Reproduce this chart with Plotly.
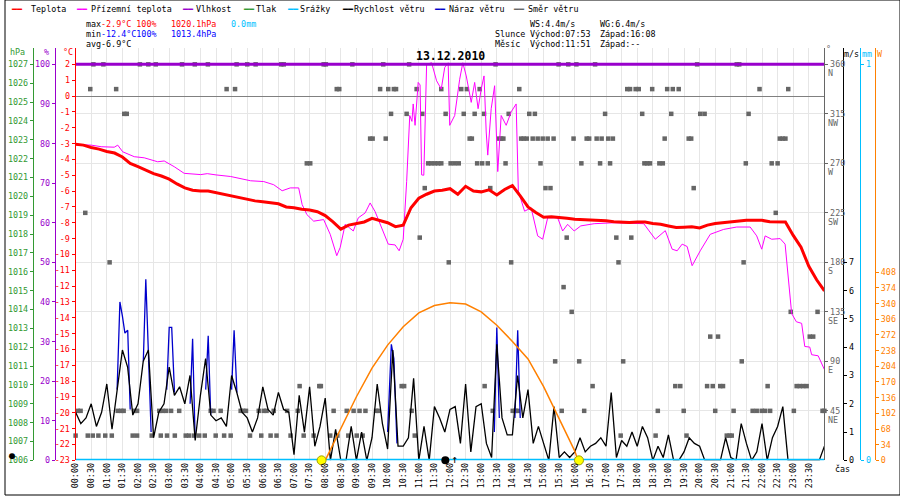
import plotly.graph_objects as go

# --- weather station day chart, 13.12.2010 ---
FONT = "DejaVu Sans Mono"
FS = 8.4                           # small text size (about 5 px per character)
W_PX, H_PX = 900, 500
PLOT_L, PLOT_R = 71, 824          # plot area edges (px)
PLOT_T, PLOT_B = 48, 465
SCALE_TOP = 65                     # pixel row where the full scale value sits

C_TEMP = '#FF0000'
C_GROUND = '#FF00FF'
C_HUM = '#9900CC'
C_PRESS = '#339933'
C_RAIN = '#00BFFF'
C_WIND = '#000000'
C_GUST = '#0000CC'
C_DIR = '#666666'
C_SUN = '#FF8000'
C_GRID = '#E6E6E6'

# temperature (°C), 15 minute readings
temp_times = [i / 4 for i in range(97)]
temp = [-3.05, -3.1, -3.25, -3.35, -3.5, -3.6, -3.85, -4.25, -4.45, -4.7, -4.9, -5.05,
        -5.25, -5.55, -5.8, -5.95, -6.0, -6.0, -6.1, -6.23, -6.3, -6.42, -6.5, -6.62,
        -6.68, -6.72, -6.8, -7.0, -7.05, -7.15, -7.2, -7.3, -7.55, -7.95, -8.4, -8.15,
        -8.05, -7.95, -7.72, -7.85, -8.0, -8.25, -8.15, -7.05, -6.45, -6.2, -6.0, -5.95,
        -5.85, -6.2, -5.7, -6.0, -6.05, -5.92, -6.25, -5.9, -5.65, -6.3, -7.0, -7.35,
        -7.65, -7.62, -7.65, -7.72, -7.78, -7.8, -7.8, -7.82, -7.88, -7.93, -7.95, -7.98,
        -7.95, -7.95, -8.05, -8.1, -8.2, -8.3, -8.28, -8.25, -8.33, -8.15, -8.05, -8.0,
        -7.93, -7.9, -7.85, -7.85, -7.85, -7.93, -7.93, -7.95, -8.8, -9.55, -10.75, -11.6,
        -12.3]

# ground temperature (°C)
ground_times = [0.0, 0.5, 0.82, 1.24, 1.35, 1.51, 1.88, 2.2, 2.63, 2.84, 3.16, 3.48, 4.01,
                4.22, 4.5, 4.97, 5.61, 6.03, 6.35, 6.62, 6.88, 7.15, 7.26, 7.41, 7.63, 7.95,
                8.16, 8.37, 8.48, 8.64, 8.9, 9.06, 9.28, 9.44, 9.6, 9.81, 10.02, 10.24, 10.37,
                10.5, 10.61, 10.71, 10.78, 10.82, 10.88, 10.98, 11.04, 11.09, 11.16, 11.25,
                11.41, 11.57, 11.72, 11.83, 11.94, 11.99, 12.15, 12.31, 12.41, 12.52, 12.68,
                12.79, 12.9, 13.0, 13.09, 13.16, 13.21, 13.32, 13.43, 13.53, 13.64, 13.8,
                13.96, 14.12, 14.19, 14.39, 14.6, 14.81, 14.97, 15.13, 15.45, 15.61, 15.77,
                15.98, 16.19, 16.62, 17.26, 18.21, 18.58, 18.9, 19.12, 19.28, 19.44, 19.6,
                19.76, 20.02, 20.34, 20.77, 21.19, 21.62, 21.83, 21.99, 22.1, 22.31, 22.58,
                22.74, 22.84, 22.95, 23.1, 23.27, 23.37, 23.53, 23.59, 23.8, 24.0]
ground = [-3.06, -3.1, -3.2, -3.23, -3.1, -3.52, -3.83, -3.9, -4.15, -4.1, -4.46, -4.88, -4.96,
          -4.9, -4.98, -5.08, -5.35, -5.4, -5.6, -5.98, -5.8, -5.8, -6.85, -7.48, -7.9, -7.8,
          -8.73, -10.08, -9.56, -8.1, -8.52, -7.69, -7.38, -6.75, -7.3, -8.31, -9.35, -9.4, -9.77,
          -9.04, -5.4, -1.23, -1.6, -0.5, -1.85, 0.86, 0.7, -4.98, -5.0, 2.0,
          2.1, 0.96, 0.44, 1.8, 2.1, -1.85, -1.23, 1.06, 2.1, 1.27, -0.4,
          0.86, -0.8, 0.44, 1.27, -2.27, -3.73, -0.8, 0.65, -4.77, -1.23, -1.85,
          -1.0, -0.5, -6.0, -7.27, -7.06, -8.83, -9.04, -7.69, -7.69, -8.52, -8.1,
          -8.52, -8.2, -8.06, -8.0, -8.06, -9.04, -8.5, -9.67, -9.77, -9.35, -9.5,
          -10.71, -9.77, -8.73, -8.42, -8.27, -8.27, -8.83, -9.67, -8.83, -9.04, -9.0,
          -9.35, -11.65, -13.73, -14.25, -14.35, -15.81, -15.85, -16.33, -16.4, -17.27]

# humidity (%) and precipitation (mm)
hum_times = [0, 24]
humidity = [100, 100]
rain_times = [0, 24]
rain = [0.0, 0.0]

# wind speed (m/s), 10 minute readings
wind_times = [i / 6 for i in range(145)]
wind_speed = [1.7, 1.3, 1.5, 2.0, 1.2, 1.7, 2.7, 1.1, 2.5, 3.9, 3.3, 1.6,
              2.0, 3.5, 3.9, 0.8, 1.7, 2.0, 3.3, 2.3, 2.6, 2.0, 3.0, 0.7,
              2.3, 3.6, 1.6, 1.4, 1.5, 1.2, 3.0, 2.4, 1.7, 1.5, 1.0, 1.5,
              2.6, 1.8, 1.6, 2.4, 1.8, 1.7, 0.2, 2.3, 1.0, 2.6, 0.5, 1.2,
              2.2, 0.0, 1.1, 0.0, 0.0, 1.2, 0.0, 1.0, 0.0, 0.8, 2.7, 1.3,
              0.4, 3.9, 0.5, 0.5, 0.8, 2.9, 0.0, 1.2, 0.0, 1.9, 1.5, 1.0,
              1.8, 1.9, 0.6, 2.7, 0.3, 1.9, 2.0, 0.6, 0.1, 4.1, 1.5, 0.9,
              0.9, 3.0, 1.5, 2.5, 0.6, 1.2, 0.6, 0.0, 1.9, 0.1, 0.3, 0.1,
              0.3, 0.8, 0.3, 0.5, 0.6, 0.8, 0.5, 2.4, 0.1, 0.7, 0.5, 1.0,
              0.5, 1.2, 0.8, 0.0, 0.5, 0.1, 0.9, 0.0, 0.0, 0.3, 0.8, 0.6,
              0.5, 0.0, 0.0, 0.0, 0.0, 0.8, 0.1, 0.0, 1.3, 0.6, 0.0, 0.3,
              1.3, 0.0, 0.8, 1.2, 1.9, 0.0, 0.0, 0.0, 0.0, 0.0, 0.0, 0.0,
              0.5]

# gusts (m/s), only the episodes that rise above the mean speed
gust_times = [1.33, 1.42, 1.5, 1.58, 1.67, 1.75, None,
              2.17, 2.25, 2.33, 2.42, None,
              2.92, 3.0, 3.08, 3.17, None,
              3.67, 3.75, 3.83, None,
              4.17, 4.25, 4.33, None,
              5.0, 5.08, 5.17, None,
              10.0, 10.12, 10.2, 10.3, None,
              13.42, 13.5, 13.58, None,
              14.08, 14.17, 14.25]
gust = [2.5, 5.6, 5.1, 4.5, 4.6, 1.8, None,
        3.5, 6.4, 3.9, 1.0, None,
        2.5, 4.7, 4.7, 2.4, None,
        2.0, 4.3, 0.8, None,
        2.5, 4.4, 1.6, None,
        2.5, 4.6, 2.4, None,
        1.0, 4.1, 3.6, 0.6, None,
        1.0, 4.7, 1.5, None,
        1.5, 4.6, 1.5]

# wind direction readings: times (h) at which each compass point was recorded
dir_N = [0.57, 0.89, 2.06, 2.33, 2.57, 3.41, 3.82, 4.24, 5.16, 5.5, 5.77, 6.59, 6.67, 7.95,
         8.02, 8.87, 9.86, 10.69, 13.46, 15.48, 15.79, 16.05, 16.65, 19.92, 21.19, 21.27]
dir_NNW = [0.47, 1.3, 4.84, 5.11, 8.37, 8.45, 9.76, 10.02, 10.2, 10.27, 10.93, 11.72, 12.36,
           12.54, 12.95, 14.22, 17.68, 17.77, 17.95, 18.05, 18.48, 18.96, 19.14, 19.33,
           21.92, 22.84]
dir_NW = [1.56, 1.64, 10.11, 10.61, 11.11, 11.86, 12.44, 12.79, 13.09, 13.88, 14.54, 14.72,
          16.97, 18.16, 19.09, 20.02, 20.16, 21.57]
dir_WNW = [9.44, 9.52, 9.94, 12.63, 12.7, 13.57, 13.64, 13.71, 14.28, 14.36, 14.46, 14.65,
           14.81, 14.97, 15.13, 15.32, 15.96, 16.38, 16.46, 16.7, 16.86, 17.07, 17.22, 18.88,
           19.65, 19.73, 22.57, 22.66, 22.75]
dir_W = [7.41, 7.52, 11.3, 11.4, 11.51, 11.62, 11.72, 12.02, 12.15, 12.28, 12.87, 13.03,
         13.21, 13.78, 14.9, 16.21, 16.81, 17.13, 18.23, 18.32, 18.41, 18.71, 18.82, 21.48,
         22.31, 22.5]
dir_WSW = [11.19, 13.29, 15.06, 15.22, 19.81]
dir_SW = [0.31, 22.44]
dir_SSW = [11.03, 15.74, 17.33, 17.81]
dir_S = [1.09, 11.96, 13.96, 17.4, 21.41]
dir_SSE = [15.64]
dir_SE = [15.9, 22.92, 23.78]
dir_ESE = [20.34, 20.59, 23.53, 23.64]
dir_E = [15.37, 16.14, 17.55, 21.35]
dir_ENE = [7.18, 7.81, 7.86, 10.45, 10.53, 13.11, 16.57, 19.22, 19.38, 20.24, 20.42, 20.66,
           20.75, 22.18, 23.11, 23.21, 23.32, 23.43]
dir_NE = [0.07, 0.16, 1.35, 1.46, 1.54, 1.88, 1.97, 2.68, 2.79, 2.9, 3.06, 3.32, 4.33, 4.42,
          4.65, 5.29, 5.37, 5.46, 5.87, 6.03, 6.12, 6.35, 6.78, 7.12, 8.27, 8.69, 8.91, 9.1,
          9.29, 9.63, 9.71, 10.77, 13.37, 14.01, 14.1, 14.17, 15.58, 16.3, 18.66, 19.49, 20.5,
          21.09, 21.7, 21.83, 21.99, 22.1, 22.26, 23.02, 23.94, 24.0]
dir_NNE = [0.0, 0.39, 0.55, 0.73, 0.95, 1.16, 1.83, 1.97, 2.44, 2.73, 2.93, 3.18, 3.53, 3.64,
           3.8, 3.96, 4.14, 4.49, 4.76, 4.97, 5.59, 5.95, 6.25, 6.44, 6.89, 7.31, 7.63, 8.16,
           8.39, 8.74, 9.01, 9.2, 10.87, 17.47, 18.59, 19.58, 20.87, 20.96, 21.03]
compass_deg = [360, 337.5, 315, 292.5, 270, 247.5, 225, 202.5, 180, 157.5, 135, 112.5,
               90, 67.5, 45, 22.5]

# solar radiation (W/m2)
sun_times = [8.0, 8.5, 9.0, 9.5, 10.0, 10.5, 11.0, 11.5, 12.0, 12.5, 13.0, 13.5, 14.0,
             14.5, 15.0, 15.5, 16.0, 16.1]
sun_w = [0, 70, 138, 200, 250, 290, 320, 336, 342, 339, 322, 293, 258, 220, 160, 90, 20, 0]

sun_events = [7 + 53 / 60, 16 + 8 / 60]     # sunrise, sunset
moon_rise = 11 + 51 / 60

# axis scales: (value at bottom, value at the 65 px row, tick values)
ax_temp = (-23, 2, list(range(2, -24, -1)))
ax_press = (1006, 1027, list(range(1006, 1028)))
ax_hum = (0, 100, list(range(0, 101, 10)))
ax_dir = (0, 360, [45, 90, 135, 180, 225, 270, 315, 360])
ax_wind = (0, 14, list(range(0, 8)))
ax_rain = (0, 1, [0, 1])
ax_sun = (0, 859, list(range(0, 409, 34)))
dir_letters = ['NE', 'E', 'SE', 'S', 'SW', 'W', 'NW', 'N']

hour_ticks = [i / 2 for i in range(48)]
hour_labels = [f"{int(h):02d}:{'30' if h % 1 else '00'}" for h in hour_ticks]


def px_x(px):
    return px / W_PX


def px_y(py):
    return 1 - py / H_PX


def full_range(spec):
    lo, hi, _ = spec
    return [lo, lo + (hi - lo) * (PLOT_B - PLOT_T) / (PLOT_B - SCALE_TOP)]


def yaxis(spec, color, side, position=None, overlay=True):
    d = dict(
        range=full_range(spec), tickvals=spec[2], ticktext=[str(v) for v in spec[2]],
        tickfont=dict(family=FONT, size=FS, color=color), side=side,
        showline=True, linecolor=color, linewidth=1, ticks='outside', ticklen=3,
        tickcolor=color, showgrid=False, zeroline=False, fixedrange=True,
        domain=[px_y(PLOT_B), px_y(PLOT_T)],
    )
    if overlay:
        d['overlaying'] = 'y'
    if position is None:
        d['anchor'] = 'x'
    else:
        d['anchor'] = 'free'
        d['position'] = position
    return d


fig = go.Figure()

# wind direction squares (main axis, drawn underneath)
dir_rows = [dir_N, dir_NNW, dir_NW, dir_WNW, dir_W, dir_WSW, dir_SW, dir_SSW, dir_S,
            dir_SSE, dir_SE, dir_ESE, dir_E, dir_ENE, dir_NE, dir_NNE]
dx, dy = [], []
for deg, times in zip(compass_deg, dir_rows):
    dx.extend(times)
    dy.extend([deg] * len(times))
fig.add_trace(go.Scatter(x=dx, y=dy, mode='markers', yaxis='y',
                         marker=dict(symbol='square', size=4.5, color=C_DIR, line=dict(width=0)),
                         name='Směr větru', hoverinfo='skip', cliponaxis=False))

# temperatures
fig.add_trace(go.Scatter(x=ground_times, y=ground, mode='lines', yaxis='y2',
                         line=dict(color=C_GROUND, width=1), name='Přízemní teplota'))
fig.add_trace(go.Scatter(x=temp_times, y=temp, mode='lines', yaxis='y2',
                         line=dict(color=C_TEMP, width=3), name='Teplota'))

# pressure (no readings drawn)
fig.add_trace(go.Scatter(x=[], y=[], mode='lines', yaxis='y3',
                         line=dict(color=C_PRESS, width=2), name='Tlak'))

# humidity
fig.add_trace(go.Scatter(x=hum_times, y=humidity, mode='lines', yaxis='y4',
                         line=dict(color=C_HUM, width=3), name='Vlhkost', cliponaxis=False))

# wind, gusts
fig.add_trace(go.Scatter(x=gust_times, y=gust, mode='lines', yaxis='y5',
                         line=dict(color=C_GUST, width=1.3), name='Náraz větru',
                         connectgaps=False))
fig.add_trace(go.Scatter(x=wind_times, y=wind_speed, mode='lines', yaxis='y5',
                         line=dict(color=C_WIND, width=1.3), name='Rychlost větru'))

# solar radiation
fig.add_trace(go.Scatter(x=sun_times, y=sun_w, mode='lines', yaxis='y7',
                         line=dict(color=C_SUN, width=1.5), name='Slunce'))

# precipitation
fig.add_trace(go.Scatter(x=rain_times, y=rain, mode='lines', yaxis='y6',
                         line=dict(color=C_RAIN, width=3), name='Srážky', cliponaxis=False))

# sunrise / sunset, moonrise
fig.add_trace(go.Scatter(x=sun_events, y=[0, 0], mode='markers', yaxis='y7',
                         marker=dict(size=9, color='#FFFF00', line=dict(color='#A0A000', width=1)),
                         cliponaxis=False, hoverinfo='skip'))
fig.add_trace(go.Scatter(x=[moon_rise], y=[0], mode='markers+text', yaxis='y7',
                         marker=dict(size=8, color='#000000'), text=['↑'],
                         textposition='middle right',
                         textfont=dict(family=FONT, size=11, color='#000000'),
                         cliponaxis=False, hoverinfo='skip'))

# height is left to the page (100vh) so the chart fills the whole window
fig.update_layout(
    width=W_PX, margin=dict(l=0, r=0, t=0, b=0), autosize=True,
    paper_bgcolor='white', plot_bgcolor='white', showlegend=False,
    font=dict(family=FONT, size=FS, color='black'),
    xaxis=dict(domain=[px_x(PLOT_L), px_x(PLOT_R)], range=[0, 24], anchor='y',
               tickvals=hour_ticks, ticktext=hour_labels, tickangle=-90,
               tickfont=dict(family=FONT, size=FS, color='black'),
               showgrid=True, gridcolor=C_GRID, gridwidth=1, zeroline=False,
               showline=False, ticks='', fixedrange=True),
    yaxis=dict(yaxis(ax_dir, C_DIR, 'right', overlay=False), showgrid=True,
               gridcolor=C_GRID, gridwidth=1),
    yaxis2=dict(yaxis(ax_temp, C_TEMP, 'left'), zeroline=True, zerolinecolor='#808080',
                zerolinewidth=1),
    yaxis3=yaxis(ax_press, C_PRESS, 'left', px_x(28)),
    yaxis4=yaxis(ax_hum, C_HUM, 'left', px_x(50)),
    yaxis5=yaxis(ax_wind, C_WIND, 'right', px_x(843)),
    yaxis6=yaxis(ax_rain, C_RAIN, 'right', px_x(860)),
    yaxis7=yaxis(ax_sun, C_SUN, 'right', px_x(875)),
)

annotations = []


def label(x, y, text, color='black', size=FS, bold=False, anchor='left'):
    annotations.append(dict(
        x=px_x(x), y=px_y(y), xref='paper', yref='paper', text=f"<b>{text}</b>" if bold else text,
        showarrow=False, xanchor=anchor, yanchor='middle', borderpad=0,
        font=dict(family=FONT, size=size, color=color)))


# legend row: (name, colour, dash start px, text start px)
legend_items = [('Teplota', C_TEMP, 5, 25), ('Přízemní teplota', C_GROUND, 70, 85),
                ('Vlhkost', C_HUM, 177, 191), ('Tlak', C_PRESS, 238, 251),
                ('Srážky', C_RAIN, 283, 296), ('Rychlost větru', C_WIND, 338, 350),
                ('Náraz větru', C_GUST, 430, 445), ('Směr větru', C_DIR, 510, 525)]
for name, color, x_dash, x_text in legend_items:
    label(x_dash, 9, '━━', color)
    label(x_text, 9, name)

# statistics block
label(80, 24, 'max')
label(96, 24, '-2.9°C 100%', C_TEMP)
label(166, 24, '1020.1hPa', C_TEMP)
label(226, 24, '0.0mm', C_RAIN)
label(80, 34, 'min')
label(96, 34, '-12.4°C100%', '#0000FF')
label(166, 34, '1013.4hPa', '#0000FF')
label(80, 44, 'avg')
label(96, 44, '-6.9°C')
label(527, 24, 'WS:4.4m/s')
label(597, 24, 'WG:6.4m/s')
label(492, 34, 'Slunce')
label(527, 34, 'Východ:07:53')
label(597, 34, 'Západ:16:08')
label(492, 44, 'Měsíc')
label(527, 44, 'Východ:11:51')
label(597, 44, 'Západ:--')

# date title
label(448, 57, '13.12.2010', size=11.5, bold=True, anchor='center')

# axis units
label(13, 53, 'hPa', C_PRESS, anchor='center')
label(42, 53, '%', C_HUM, anchor='center')
label(63, 53, '°C', C_TEMP, anchor='center')
label(828, 50, '°', C_DIR, anchor='center')
label(851, 55, 'm/s', C_WIND, anchor='center')
label(867, 55, 'mm', C_RAIN, anchor='center')
label(880, 55, 'W', C_SUN, anchor='center')
label(834, 474, 'čas')
label(7, 460, '●', size=10, anchor='center')

# compass letters under the direction ticks
for deg, letter in zip(ax_dir[2], dir_letters):
    annotations.append(dict(x=px_x(826), y=deg, xref='paper', yref='y', text=letter,
                            showarrow=False, xanchor='left', yanchor='middle', yshift=-9,
                            font=dict(family=FONT, size=FS, color=C_DIR)))

fig.update_layout(annotations=annotations,
                  shapes=[dict(type='rect', xref='paper', yref='paper', x0=0, x1=1, y0=0, y1=1,
                               line=dict(color='black', width=1), layer='above')])

# no body margin / scrollbars; the graph div is 100vh tall
page_css = ("document.documentElement.style.overflow='hidden';"
            "document.body.style.margin='0';"
            "document.body.style.overflow='hidden';"
            "window.dispatchEvent(new Event('resize'));")
fig.write_html("out.html", default_height='100vh',
               config={'displayModeBar': False, 'responsive': True}, post_script=page_css)
